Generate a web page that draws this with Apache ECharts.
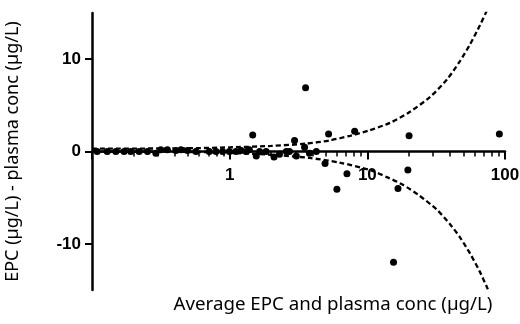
<!DOCTYPE html>
<html>
<head>
<meta charset="utf-8">
<script src="https://cdn.jsdelivr.net/npm/echarts@6/dist/echarts.min.js"></script>
<style>
html,body{margin:0;padding:0;background:#fff;}
#c{width:520px;height:324px;}
</style>
</head>
<body>
<div id="c"></div>
<script>
// Scatter points: [average, difference]
var points = [
  [0.109, 0], [0.129, 0], [0.149, 0], [0.171, 0], [0.191, 0], [0.220, 0], [0.253, 0],
  [0.291, -0.2], [0.316, 0.2], [0.353, 0.2], [0.407, 0.1], [0.443, 0.2], [0.494, 0.1],
  [0.569, 0], [0.711, 0], [0.796, 0], [0.889, 0], [0.995, 0], [1.11, 0], [1.21, 0.1],
  [1.32, 0], [1.39, 0.2], [1.47, 1.8], [1.56, -0.5], [1.65, 0], [1.84, 0], [2.1, -0.6],
  [2.30, -0.3], [2.58, 0], [2.72, 0], [2.96, 1.2], [3.05, -0.5], [3.5, 0.45], [3.56, 6.9],
  [3.80, -0.2], [4.26, 0], [4.93, -1.3], [5.23, 1.9], [6.01, -4.1], [7.11, -2.4],
  [8.09, 2.2], [15.5, -12.0], [16.7, -4.0], [19.7, -2.0], [20.1, 1.7], [91.0, 1.9]
];
// Upper limit of agreement curve
var upperLimit = [
  [0.1, 0.3], [0.5, 0.35], [1, 0.45], [2, 0.6], [3.6, 0.85], [5.3, 1.2], [7.5, 1.7],
  [10.4, 2.3], [14.6, 3.1], [20.4, 4.3], [28.5, 5.9], [37.9, 7.8], [47.1, 9.8],
  [55.7, 11.6], [65.9, 13.7], [74, 15.3]
];
// Lower limit of agreement curve
var lowerLimit = [
  [0.1, 0], [0.5, -0.05], [1, -0.15], [2, -0.35], [3.8, -0.7], [6.3, -1.2], [10.4, -2.0],
  [14, -2.8], [18.1, -3.6], [24, -4.8], [32, -6.3], [40, -7.9], [47.1, -9.3],
  [56, -11.1], [65, -12.9], [74, -14.7], [80, -15.9]
];
var xMajorTicks = [0.1, 1, 10, 100];
var xLabels = [1, 10, 100];
var xMinorTicks = [0.2, 0.3, 0.4, 0.5, 0.6, 0.7, 0.8, 0.9, 2, 3, 4, 5, 6, 7, 8, 9,
  20, 30, 40, 50, 60, 70, 80, 90];
var yTicks = [-10, 0, 10];
var xTitle = 'Average EPC and plasma conc (µg/L)';
var yTitle = 'EPC (µg/L) - plasma conc (µg/L)';

var chart = echarts.init(document.getElementById('c'), null, {renderer: 'canvas'});
var labelFont = {fontFamily: 'Liberation Sans', fontWeight: 'bold', fontSize: 17, color: '#000'};
var titleFont = 'Noto Sans';
var gridTop = 13, gridBottom = 34, H = 324;
// place the x axis at y = 0 (middle of the symmetric -15..15 range)
var zeroOffset = -((H - gridBottom) - gridTop) / 2;
chart.setOption({
  animation: false,
  backgroundColor: '#fff',
  grid: {left: 92, right: 15, top: gridTop, bottom: gridBottom, containLabel: false, outerBoundsMode: 'none'},
  xAxis: [{
    type: 'log', logBase: 10, min: 0.1, max: 100, position: 'bottom', offset: zeroOffset,
    axisLine: {onZero: false, lineStyle: {color: '#000', width: 2.5}},
    axisTick: {show: true, inside: false, length: 8, customValues: xMajorTicks, lineStyle: {color: '#000', width: 2}},
    axisLabel: Object.assign({margin: 15, customValues: xLabels}, labelFont),
    splitLine: {show: false}, minorTick: {show: false}
  }, {
    type: 'log', logBase: 10, min: 0.1, max: 100, position: 'bottom', offset: zeroOffset,
    axisLine: {show: false, onZero: false},
    axisTick: {show: true, inside: false, length: 5, customValues: xMinorTicks, lineStyle: {color: '#000', width: 1.5}},
    axisLabel: {show: false},
    splitLine: {show: false}
  }],
  yAxis: {
    type: 'value', min: -15, max: 15, interval: 5,
    axisLine: {show: true, onZero: false, lineStyle: {color: '#000', width: 2.5}},
    axisTick: {show: true, inside: false, length: 7, customValues: yTicks, lineStyle: {color: '#000', width: 2}},
    axisLabel: Object.assign({margin: 11, customValues: yTicks}, labelFont),
    splitLine: {show: false},
    name: yTitle, nameLocation: 'middle', nameGap: 70, nameRotate: 90,
    nameTextStyle: {fontFamily: titleFont, fontSize: 18, color: '#000'}
  },
  graphic: [{
    type: 'text', x: 333, y: 305,
    style: {text: xTitle, fontFamily: titleFont, fontSize: 18.7, fill: '#000', textAlign: 'center', textVerticalAlign: 'middle'}
  }],
  series: [{
    type: 'line', xAxisIndex: 0, data: upperLimit, showSymbol: false, smooth: 0.25,
    lineStyle: {color: '#000', width: 2.3, type: [5, 3]}, z: 2
  }, {
    type: 'line', xAxisIndex: 0, data: lowerLimit, showSymbol: false, smooth: 0.25,
    lineStyle: {color: '#000', width: 2.3, type: [5, 3]}, z: 2
  }, {
    type: 'scatter', xAxisIndex: 0, data: points, symbolSize: 7, itemStyle: {color: '#000', opacity: 1}, z: 3
  }]
});
</script>
</body>
</html>
